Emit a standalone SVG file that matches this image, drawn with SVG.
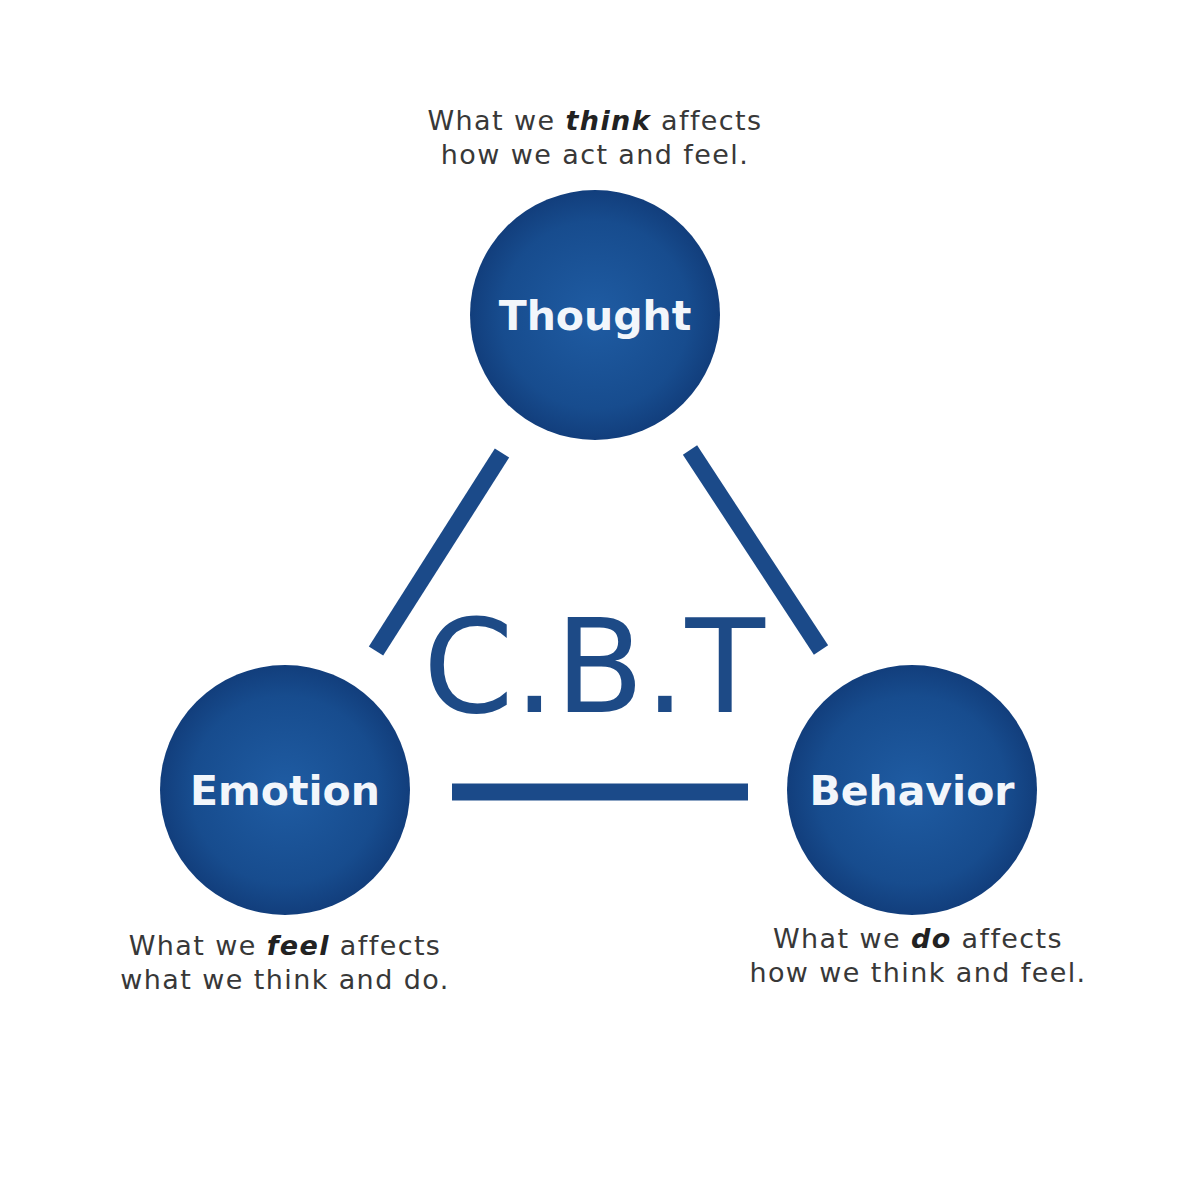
<svg xmlns="http://www.w3.org/2000/svg" width="1200" height="1200" viewBox="0 0 1200 1200">
<defs>
<radialGradient id="g" cx="50%" cy="50%" r="50%">
<stop offset="0" stop-color="#1f5ca3"/>
<stop offset="0.75" stop-color="#174c8e"/>
<stop offset="1" stop-color="#123e7c"/>
</radialGradient>
<style>
.node{fill:url(#g);}
.lbl{font-family:"DejaVu Sans",Verdana,sans-serif;font-weight:bold;font-size:41px;fill:#f2f6fb;text-anchor:middle;}
.cap{font-family:"DejaVu Sans",Verdana,sans-serif;font-size:27px;letter-spacing:1.4px;fill:#383838;text-anchor:middle;}
.em{font-weight:bold;font-style:italic;fill:#222;}
.con{stroke:#1b4a89;stroke-width:17;stroke-linecap:butt;fill:none;}
</style>
</defs>
<rect width="1200" height="1200" fill="#fff"/>
<g id="connectors">
<line class="con" x1="502" y1="453" x2="376" y2="651"/>
<line class="con" x1="690" y1="450" x2="821" y2="650"/>
<line class="con" x1="452" y1="792" x2="748" y2="792"/>
</g>
<g id="cbt">
<text x="594" y="712" font-family="DejaVu Sans,Verdana,sans-serif" font-size="130" fill="#1d4a86" text-anchor="middle">C.B.T</text>
</g>
<g id="thought">
<circle class="node" cx="595" cy="315" r="125"/>
<text class="lbl" x="595" y="330">Thought</text>
<text class="cap" x="595" y="130">What we <tspan class="em">think</tspan> affects</text>
<text class="cap" x="595" y="164">how we act and feel.</text>
</g>
<g id="emotion">
<circle class="node" cx="285" cy="790" r="125"/>
<text class="lbl" x="285" y="805">Emotion</text>
<text class="cap" x="285" y="955">What we <tspan class="em">feel</tspan> affects</text>
<text class="cap" x="285" y="989">what we think and do.</text>
</g>
<g id="behavior">
<circle class="node" cx="912" cy="790" r="125"/>
<text class="lbl" x="912" y="805">Behavior</text>
<text class="cap" x="918" y="948">What we <tspan class="em">do</tspan> affects</text>
<text class="cap" x="918" y="982">how we think and feel.</text>
</g>
</svg>
